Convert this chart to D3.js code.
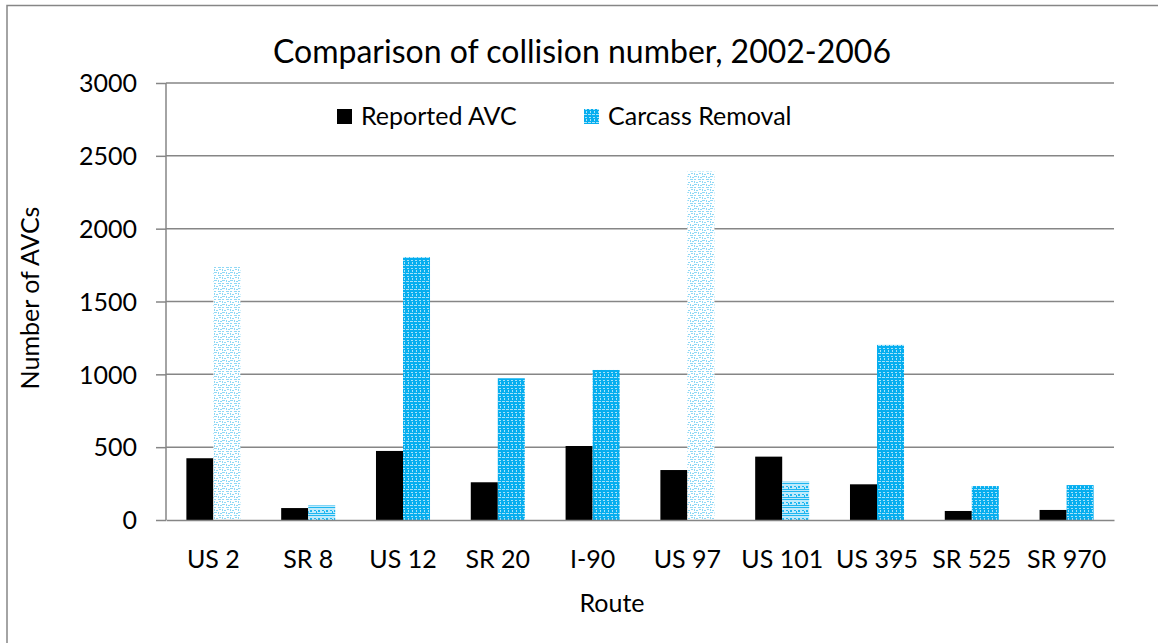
<!DOCTYPE html>
<html>
<head>
<meta charset="utf-8">
<script src="https://cdn.jsdelivr.net/npm/d3@7"></script>
<style>
  body { margin: 0; background: #fff; }
  text { font-family: Lato, "Open Sans", sans-serif; fill: #000; }
</style>
</head>
<body>
<svg id="chart" width="1158" height="643"></svg>
<script>
// data
var routes = ["US 2", "SR 8", "US 12", "SR 20", "I-90", "US 97", "US 101", "US 395", "SR 525", "SR 970"];
var reported = [424, 82, 474, 259, 508, 343, 435, 245, 62, 69];
var carcass = [1740, 100, 1804, 973, 1030, 2392, 263, 1202, 233, 240];
var seriesNames = ["Reported AVC", "Carcass Removal"];
var yTicks = [0, 500, 1000, 1500, 2000, 2500, 3000];

// which pattern each carcass bar uses (rendering differs per bar in the original)
var carcassFill = ["light", "mid", "dense", "dense", "dense", "light", "mid", "dense", "dense", "dense"];

var svg = d3.select("#chart");
var margin = {left: 166, right: 44, top: 83, bottom: 123};
var width = 1158 - margin.left - margin.right;
var height = 643 - margin.top - margin.bottom;

// patterns
var defs = svg.append("defs");
function makePattern(id, bg, fg, rows) {
	var p = defs.append("pattern")
		.attr("id", id)
		.attr("patternUnits", "userSpaceOnUse")
		.attr("width", 8).attr("height", 8);
	p.append("rect").attr("width", 8).attr("height", 8).attr("fill", bg);
	rows.forEach(function(r) {
		p.append("rect")
			.attr("x", r[0]).attr("y", r[1])
			.attr("width", r[2]).attr("height", r[3])
			.attr("fill", fg);
	});
}
makePattern("light", "#ffffff", "#8fd8f5", [[0,0,2,1],[4,0,3,1],[0,2,1,2],[2,3,2,1],[5,2,2,1],[0,5,3,1],[4,5,1,2],[6,6,2,1]]);
makePattern("mid", "#bfeafb", "#1db6f0", [[0,0,8,1],[0,3,2,2],[4,3,2,1],[0,6,8,1],[6,4,1,2]]);
makePattern("dense", "#06aeef", "#a6e2f8", [[1,1,2,1],[5,1,2,1],[2,3,1,2],[6,3,1,2],[0,6,3,1],[4,6,3,1]]);

// outer border
svg.append("rect")
	.attr("x", 7).attr("y", 5.5)
	.attr("width", 1160).attr("height", 650)
	.attr("fill", "none").attr("stroke", "#868686").attr("stroke-width", 1.5);

var g = svg.append("g").attr("transform", "translate(" + margin.left + "," + margin.top + ")");

var x = d3.scaleBand().domain(routes).range([0, width]).paddingInner(0.43).paddingOuter(0.215);
var y = d3.scaleLinear().domain([0, 3000]).range([height, 0]);

// gridlines
g.selectAll(".grid").data(yTicks.slice(1)).enter().append("line")
	.attr("x1", 0).attr("x2", width)
	.attr("y1", function(d) { return y(d); })
	.attr("y2", function(d) { return y(d); })
	.attr("stroke", "#868686").attr("stroke-width", 1.5);

var half = x.bandwidth() / 2;

g.selectAll(".rep").data(reported).enter().append("rect")
	.attr("x", function(d, i) { return x(routes[i]); })
	.attr("y", function(d) { return y(d); })
	.attr("width", half)
	.attr("height", function(d) { return height - y(d); })
	.attr("fill", "#000");

g.selectAll(".car").data(carcass).enter().append("rect")
	.attr("x", function(d, i) { return x(routes[i]) + half; })
	.attr("y", function(d) { return y(d); })
	.attr("width", half)
	.attr("height", function(d) { return height - y(d); })
	.attr("fill", function(d, i) { return "url(#" + carcassFill[i] + ")"; });

// y axis
var yAxis = g.append("g").call(d3.axisLeft(y).tickValues(yTicks).tickSize(10).tickPadding(19).tickFormat(d3.format("d")));
yAxis.select(".domain").attr("stroke", "#868686").attr("stroke-width", 1.5).attr("d", "M0," + height + "V0");
yAxis.selectAll(".tick line").attr("stroke", "#868686").attr("stroke-width", 1.5);
yAxis.selectAll(".tick text").style("font-size", "25px").attr("dy", "0.35em");

// x axis
var xAxis = g.append("g").attr("transform", "translate(0," + height + ")")
	.call(d3.axisBottom(x).tickSize(0).tickPadding(30));
xAxis.select(".domain").attr("stroke", "#868686").attr("stroke-width", 1.5);
xAxis.selectAll(".tick text").style("font-size", "25px");

// titles
svg.append("text").attr("x", 582).attr("y", 63).attr("text-anchor", "middle")
	.style("font-size", "32px").text("Comparison of collision number, 2002-2006");
svg.append("text").attr("x", 612).attr("y", 612).attr("text-anchor", "middle")
	.style("font-size", "25px").text("Route");
svg.append("text").attr("transform", "translate(39,298) rotate(-90)").attr("text-anchor", "middle")
	.style("font-size", "25px").text("Number of AVCs");

// legend
var legendX = [337, 584];
var legendFill = ["#000", "url(#dense)"];
var lg = svg.append("g").selectAll("g").data(seriesNames).enter().append("g")
	.attr("transform", function(d, i) { return "translate(" + legendX[i] + ",116)"; });
lg.append("rect").attr("x", 0).attr("y", -7).attr("width", 15).attr("height", 15)
	.attr("fill", function(d, i) { return legendFill[i]; });
lg.append("text").attr("x", 24).attr("y", 9).style("font-size", "25px").text(function(d) { return d; });
</script>
</body>
</html>
